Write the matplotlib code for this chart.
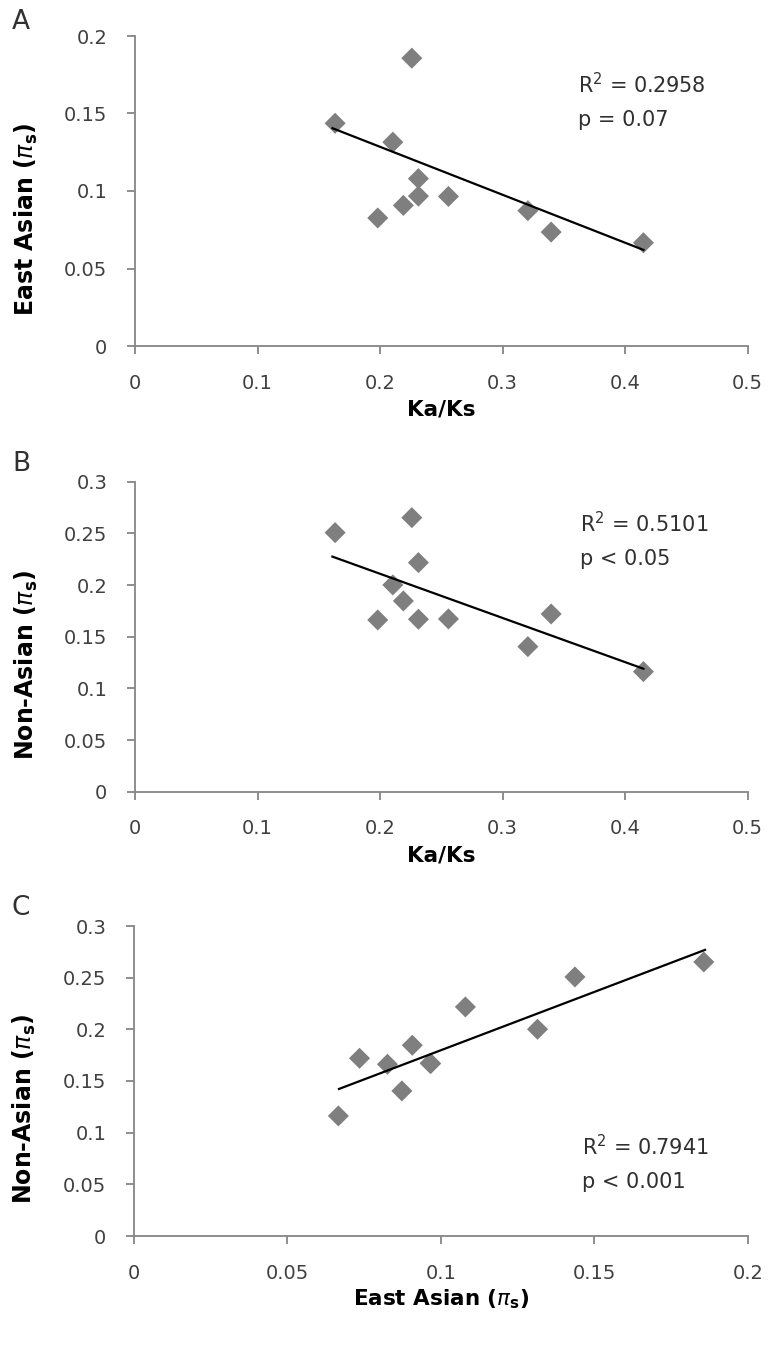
import numpy as np
import matplotlib
matplotlib.use("Agg")
import matplotlib.pyplot as plt

# ---- data (11 genes) ----
ka_ks      = [0.1633, 0.2259, 0.2104, 0.2313, 0.2313, 0.2558, 0.2190, 0.1981, 0.3206, 0.3396, 0.4149]
east_asian = [0.1437, 0.1857, 0.1315, 0.1080, 0.0967, 0.0965, 0.0907, 0.0826, 0.0873, 0.0735, 0.0666]
non_asian  = [0.2507, 0.2652, 0.2001, 0.2217, 0.1669, 0.1672, 0.1846, 0.1662, 0.1404, 0.1720, 0.1162]

# trendline end points (x0, x1) and (y0, y1)
trend_a_x = [0.1612, 0.4149]; trend_a_y = [0.1405, 0.0620]
trend_b_x = [0.1611, 0.4149]; trend_b_y = [0.2275, 0.1190]
trend_c_x = [0.0668, 0.1861]; trend_c_y = [0.1423, 0.2769]

panel_letters = ["A", "B", "C"]
stats_r2 = ["R$^2$ = 0.2958", "R$^2$ = 0.5101", "R$^2$ = 0.7941"]
stats_p = ["p = 0.07", "p < 0.05", "p < 0.001"]

plt.rcParams['font.family'] = ['DejaVu Sans']
plt.rcParams['mathtext.fontset'] = 'dejavusans'

W, H = 774, 1347
fig = plt.figure(figsize=(W / 100, H / 100), dpi=100)

def ax_rect(x0, x1, ytop, ybot):
    return [x0 / W, 1 - ybot / H, (x1 - x0) / W, (ybot - ytop) / H]

rects = [ax_rect(135, 747.7, 36, 346),
         ax_rect(135, 747.7, 481.7, 791.7),
         ax_rect(134, 747.7, 926, 1236)]

panels = [
    dict(x=ka_ks, y=east_asian, tx_=trend_a_x, ty_=trend_a_y, xlim=0.5, xstep=0.1, ylim=0.2, ystep=0.05,
         xlabel="Ka/Ks", ylabel=r"East Asian ($\pi_\mathregular{s}$)",
         tx=0.3616, ty=0.163, dy=0.0213, xt=["0", "0.1", "0.2", "0.3", "0.4", "0.5"],
         yt=["0", "0.05", "0.1", "0.15", "0.2"], letter_y=22),
    dict(x=ka_ks, y=non_asian, tx_=trend_b_x, ty_=trend_b_y, xlim=0.5, xstep=0.1, ylim=0.3, ystep=0.05,
         xlabel="Ka/Ks", ylabel=r"Non-Asian ($\pi_\mathregular{s}$)",
         tx=0.363, ty=0.2514, dy=0.032, xt=["0", "0.1", "0.2", "0.3", "0.4", "0.5"],
         yt=["0", "0.05", "0.1", "0.15", "0.2", "0.25", "0.3"], letter_y=464),
    dict(x=east_asian, y=non_asian, tx_=trend_c_x, ty_=trend_c_y, xlim=0.2, xstep=0.05, ylim=0.3, ystep=0.05,
         xlabel=r"East Asian ($\pi_\mathregular{s}$)", ylabel=r"Non-Asian ($\pi_\mathregular{s}$)",
         tx=0.1459, ty=0.0784, dy=0.032, xt=["0", "0.05", "0.1", "0.15", "0.2"],
         yt=["0", "0.05", "0.1", "0.15", "0.2", "0.25", "0.3"], letter_y=908),
]

axis_col = '#868686'
tick_col = '#404040'

for i, (rect, p) in enumerate(zip(rects, panels)):
    ax = fig.add_axes(rect)
    ax.scatter(p['x'], p['y'], marker='D', s=115, color='#7f7f7f', edgecolors='none', zorder=3)
    ax.plot(p['tx_'], p['ty_'], color='black', lw=1.6, zorder=4)

    ax.set_xlim(0, p['xlim'])
    ax.set_ylim(0, p['ylim'])
    xticks = np.arange(0, p['xlim'] + 1e-9, p['xstep'])
    yticks = np.arange(0, p['ylim'] + 1e-9, p['ystep'])
    ax.set_xticks(xticks, p['xt'])
    ax.set_yticks(yticks, p['yt'])
    for s in ['top', 'right']:
        ax.spines[s].set_visible(False)
    for s in ['left', 'bottom']:
        ax.spines[s].set_color(axis_col)
        ax.spines[s].set_linewidth(1.3)
    ax.tick_params(axis='both', direction='out', length=6, width=1.3, color=axis_col,
                   labelcolor=tick_col, labelsize=14)
    ax.tick_params(axis='y', pad=14)
    ax.tick_params(axis='x', pad=14)

    ax.set_xlabel(p['xlabel'], fontsize=15.5, fontweight='bold', color='black')
    ax.xaxis.set_label_coords(0.5, -0.205)
    ax.xaxis.label.set_va('center')
    ax.set_ylabel(p['ylabel'], fontsize=17, fontweight='bold', color='black')
    ax.yaxis.set_label_coords(-0.178, 0.41)
    ax.yaxis.label.set_va('center')

    ax.text(p['tx'], p['ty'], stats_r2[i], fontsize=15, color='#303030', va='baseline', ha='left')
    ax.text(p['tx'], p['ty'] - p['dy'], stats_p[i], fontsize=15, color='#303030', va='baseline', ha='left')

    fig.text(21 / W, 1 - p['letter_y'] / H, panel_letters[i], fontsize=19, color='#303030',
             ha='center', va='center')

fig.savefig('out.png', dpi=100, facecolor='white')
